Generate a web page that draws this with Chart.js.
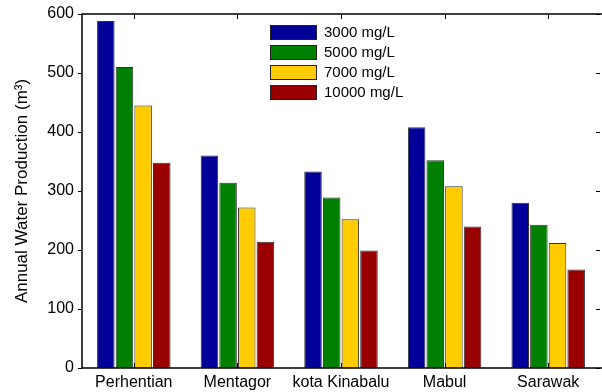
<!DOCTYPE html>
<html><head><meta charset="utf-8">
<script src="https://cdn.jsdelivr.net/npm/chart.js@4/dist/chart.umd.min.js"></script>
<style>html,body{margin:0;padding:0;background:#fff}#wrap{width:602px;height:392px}</style>
</head><body><div id="wrap"><canvas id="c" width="602" height="392"></canvas></div>
<script>
const categories = ["Perhentian", "Mentagor", "kota Kinabalu", "Mabul", "Sarawak"];
const seriesNames = ["3000 mg/L", "5000 mg/L", "7000 mg/L", "10000 mg/L"];
const s3000 = [588, 360, 333, 408, 280];
const s5000 = [510, 314, 289, 352, 243];
const s7000 = [445, 272, 252, 308, 212];
const s10000 = [348, 214, 199, 240, 167];
const yTicks = [0, 100, 200, 300, 400, 500, 600];
const colors = ["#000099", "#008000", "#FFCC00", "#990000"];

const FONT = "Liberation Sans, Arial, sans-serif";

const frame = {
  id: "frame",
  afterDraw(chart) {
    const ctx = chart.ctx, a = chart.chartArea, x = chart.scales.x, y = chart.scales.y;
    ctx.save();
    ctx.strokeStyle = "#000";
    ctx.lineWidth = 1.5;
    ctx.beginPath();
    ctx.moveTo(a.left, a.bottom); ctx.lineTo(a.left, a.top); ctx.lineTo(a.right + 2, a.top);
    ctx.moveTo(a.left, a.bottom); ctx.lineTo(a.right + 2, a.bottom);
    ctx.stroke();
    ctx.lineWidth = 1;
    ctx.beginPath();
    yTicks.forEach(v => {
      const py = Math.round(y.getPixelForValue(v)) + 0.5;
      ctx.moveTo(a.left - 4, py); ctx.lineTo(a.left, py);
      ctx.moveTo(a.right, py); ctx.lineTo(a.right - 4, py);
    });
    categories.forEach((c, i) => {
      const px = Math.round(x.getPixelForValue(i)) + 0.5;
      ctx.moveTo(px, a.top); ctx.lineTo(px, a.top + 5);
      ctx.moveTo(px, a.bottom); ctx.lineTo(px, a.bottom - 5);
    });
    ctx.stroke();
    // legend
    const lx = 270, ly = 25, step = 20;
    ctx.font = "15px " + FONT;
    ctx.textBaseline = "middle";
    seriesNames.forEach((n, i) => {
      const top = ly + i * step;
      ctx.fillStyle = colors[i];
      ctx.fillRect(lx, top, 47, 15);
      ctx.strokeStyle = "#222";
      ctx.lineWidth = 1;
      ctx.strokeRect(lx + 0.5, top + 0.5, 46, 14);
      ctx.fillStyle = "#000";
      ctx.fillText(n, lx + 54, top + 8);
    });
    ctx.restore();
  }
};

const datasets = [s3000, s5000, s7000, s10000].map((d, i) => ({
  label: seriesNames[i], data: d, backgroundColor: colors[i],
  borderColor: "#333", borderWidth: 1, categoryPercentage: 0.72, barPercentage: 0.94
}));

new Chart(document.getElementById("c"), {
  type: "bar",
  data: { labels: categories, datasets },
  options: {
    responsive: false, animation: false, devicePixelRatio: 1,
    layout: { padding: { top: 14, right: 2, left: 0, bottom: 0 } },
    plugins: { legend: { display: false }, tooltip: { enabled: false } },
    scales: {
      x: {
        grid: { display: false, drawTicks: false }, border: { display: false },
        ticks: { color: "#000", font: { family: FONT, size: 16 }, padding: 5, maxRotation: 0 },
        afterFit(s) { s.height = 24; }
      },
      y: {
        min: 0, max: 600,
        grid: { display: false, drawTicks: false }, border: { display: false },
        ticks: { stepSize: 100, color: "#000", font: { family: FONT, size: 16 }, padding: 8 },
        title: { display: true, text: "Annual Water Production (m³)", color: "#000", font: { family: FONT, size: 17 }, padding: { top: 12, bottom: 6 } },
        afterFit(s) { s.width = 82; s.paddingTop = 0; s.paddingBottom = 0; }
      }
    }
  },
  plugins: [frame]
});
</script></body></html>
